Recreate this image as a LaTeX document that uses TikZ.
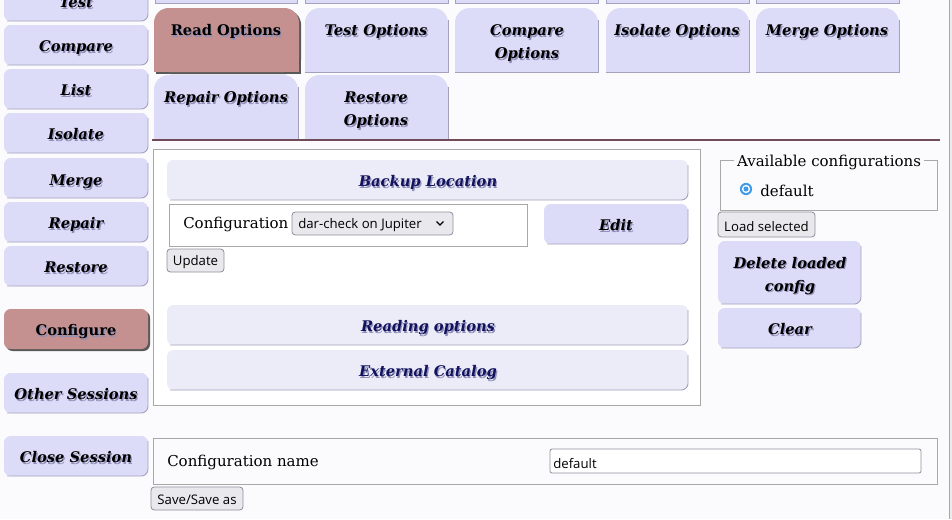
\documentclass[tikz,border=0pt]{standalone}
\usepackage{fontspec}
\setmainfont{DejaVu Serif}
\newfontfamily\uisans{Open Sans}

\definecolor{pagebg}{HTML}{FBFBFE}
\definecolor{btnface}{HTML}{DCDCF9}
\definecolor{btnedge}{HTML}{A4A1BC}
\definecolor{btnactive}{HTML}{C49090}
\definecolor{headface}{HTML}{ECECF8}
\definecolor{headink}{HTML}{12125E}
\definecolor{txshadow}{HTML}{9090B8}
\definecolor{paneledge}{HTML}{A8A8A8}
\definecolor{ctlface}{HTML}{E9E9ED}
\definecolor{ctledge}{HTML}{8F8F9D}
\definecolor{radioblue}{HTML}{3D9BE9}
\colorlet{activeshadow}{black!65}
\colorlet{divider}{black!55!purple!40!gray}

\def\tabradius{11pt}
\def\btnfont{\fontsize{11}{17.25}\selectfont\bfseries\itshape}
% text with a soft shadow, one or more lines
\newcommand{\txshd}[1]{\rlap{\kern0.9pt\raisebox{-1pt}{\color{txshadow}\begin{tabular}[b]{@{}c@{}}#1\end{tabular}}}\begin{tabular}[b]{@{}c@{}}#1\end{tabular}}
% tab: x1 y1 x2 y2 colour, round top only
\newcommand{\tabshape}[5]{%
  \fill[#5, rounded corners=\tabradius] (#1,#2) rectangle (#3,#4);
  \fill[#5] (#1,#2+20) rectangle (#3,#4);}
\newcommand{\tabedge}[4]{\draw[edgeline] (#3,#2+12) -- (#3,#4) -- (#1,#4);}
% menu button: x1 y1 x2 y2
\newcommand{\btnbox}[4]{%
  \fill[btnface, rounded corners=5pt] (#1,#2) rectangle (#3,#4);
  \draw[edgeline, rounded corners=5pt] (#3,#2+5) -- (#3,#4) -- (#1+3,#4);}
\newcommand{\headbox}[4]{%
  \fill[headface, rounded corners=5pt] (#1,#2) rectangle (#3,#4);
  \draw[edgeline, rounded corners=5pt] (#3,#2+5) -- (#3,#4) -- (#1+3,#4);}

\tikzset{
  edgeline/.style={draw=btnedge, line width=0.7pt},
  btntext/.style={font=\btnfont, text=black, inner sep=0pt, yshift=-2.2pt},
  acttext/.style={font=\fontsize{11}{17.25}\selectfont\bfseries, text=black, inner sep=0pt, yshift=-2.2pt},
  headtext/.style={font=\btnfont, text=headink, inner sep=0pt, yshift=-2.2pt},
  formtext/.style={font=\fontsize{11.25}{14}\selectfont, text=black, inner sep=0pt, yshift=-2.2pt},
  ctltext/.style={font=\uisans\fontsize{9.9}{12}\selectfont, text=black, inner sep=0pt, yshift=-1.1pt},
  smallbtn/.style={fill=ctlface, draw=ctledge, line width=0.6pt, rounded corners=2.5pt},
  panel/.style={draw=paneledge, line width=0.7pt}
  }

\begin{document}
\begin{tikzpicture}[x=0.75pt,y=-0.75pt]
  \useasboundingbox (0,0) rectangle (952,519);
  \clip (0,0) rectangle (952,519);
  \fill[pagebg] (0,0) rectangle (952,519);
  \fill[black!8] (949,0) rectangle (952,519);
  \draw[paneledge, line width=0.7pt] (949,0) -- (949,519);

  % side menu
  \btnbox{4}{-19}{148}{21}
  \node[btntext] (test) at (76,1) {\txshd{Test}};
  \btnbox{4}{25}{148}{65}
  \node[btntext] (compare) at (76,45) {\txshd{Compare}};
  \btnbox{4}{69}{148}{109}
  \node[btntext] (list) at (76,89) {\txshd{List}};
  \btnbox{4}{113}{148}{153}
  \node[btntext] (isolate) at (76,133) {\txshd{Isolate}};
  \btnbox{4}{158}{148}{198}
  \node[btntext] (merge) at (76,179) {\txshd{Merge}};
  \btnbox{4}{202}{148}{242}
  \node[btntext] (repair) at (76,222) {\txshd{Repair}};
  \btnbox{4}{246}{148}{286}
  \node[btntext] (restore) at (76,266) {\txshd{Restore}};
  \fill[activeshadow, rounded corners=5pt] (6,311) rectangle (150,351);
  \fill[btnactive, rounded corners=5pt] (4,309) rectangle (148,349);
  \node[acttext] (configure) at (76,329) {\txshd{Configure}};
  \btnbox{4}{373}{148}{413}
  \node[btntext] (othersessions) at (76,393) {\txshd{Other Sessions}};
  \btnbox{4}{436}{148}{476}
  \node[btntext] (closesession) at (76,456) {\txshd{Close Session}};

  % tabs, row above (cut off)
  \fill[btnface] (155,-20) rectangle (297,3);
  \draw[edgeline] (155,-20) -- (155,3) -- (297,3) -- (297,-20);
  \fill[btnface] (305,-20) rectangle (448,3);
  \draw[edgeline] (305,-20) -- (305,3) -- (448,3) -- (448,-20);
  \fill[btnface] (455,-20) rectangle (598,3);
  \draw[edgeline] (455,-20) -- (455,3) -- (598,3) -- (598,-20);
  \fill[btnface] (606,-20) rectangle (749,3);
  \draw[edgeline] (606,-20) -- (606,3) -- (749,3) -- (749,-20);
  \fill[btnface] (756,-20) rectangle (899,3);
  \draw[edgeline] (756,-20) -- (756,3) -- (899,3) -- (899,-20);

  % tabs
  \tabshape{156}{10}{301}{74}{activeshadow}
  \tabshape{154}{8}{299}{72}{btnactive}
  \node[acttext] (readopt) at (226,29) {\txshd{Read Options}};
  \tabshape{305}{8}{448}{72}{btnface}
  \tabedge{305}{8}{448}{72}
  \node[btntext] (testopt) at (376,29) {\txshd{Test Options}};
  \tabshape{455}{8}{598}{72}{btnface}
  \tabedge{455}{8}{598}{72}
  \node[btntext] (compareopt) at (527,40.5) {\txshd{Compare\\Options}};
  \tabshape{606}{8}{749}{72}{btnface}
  \tabedge{606}{8}{749}{72}
  \node[btntext] (isolateopt) at (677,29) {\txshd{Isolate Options}};
  \tabshape{756}{8}{899}{72}{btnface}
  \tabedge{756}{8}{899}{72}
  \node[btntext] (mergeopt) at (827,29) {\txshd{Merge Options}};
  \tabshape{154}{75}{298}{139}{btnface}
  \tabedge{154}{75}{298}{139}
  \node[btntext] (repairopt) at (226,96) {\txshd{Repair Options}};
  \tabshape{305}{75}{448}{139}{btnface}
  \tabedge{305}{75}{448}{139}
  \node[btntext] (restoreopt) at (376,107.5) {\txshd{Restore\\Options}};
  \draw[divider, line width=1.5pt] (152,139.5) -- (940,139.5);

  % main panel
  \draw[panel, fill=white] (153,149) rectangle (700,405);
  \headbox{167}{160}{688}{200}
  \node[headtext] (backup) at (428,180) {\txshd{Backup Location}};
  \draw[panel, fill=white] (169,204) rectangle (527,246);
  \node[formtext, anchor=west] (conflabel) at (183,222) {Configuration};
  \draw[smallbtn] (292,212) rectangle (453,235);
  \node[ctltext, anchor=west] (confselect) at (298,224) {dar-check on Jupiter};
  \draw[black, line width=0.9pt] (436.5,221.5) -- (440,225) -- (443.5,221.5);
  \btnbox{544}{204}{688}{244}
  \node[btntext] (edit) at (616,224) {\txshd{Edit}};
  \draw[smallbtn] (167,249) rectangle (224,272);
  \node[ctltext] (update) at (195.5,261) {Update};
  \headbox{167}{305}{688}{345}
  \node[headtext] (reading) at (428,325) {\txshd{Reading options}};
  \headbox{167}{350}{688}{390}
  \node[headtext] (catalog) at (428,370) {\txshd{External Catalog}};

  % configurations on the right
  \draw[panel] (720,160) rectangle (937,210);
  \node[formtext, fill=pagebg, inner xsep=2pt] (available) at (829,160) {Available configurations};
  \fill[radioblue] (746,189) circle (4.6pt);
  \fill[white] (746,189) circle (3.1pt);
  \fill[radioblue] (746,189) circle (1.9pt);
  \node[formtext, anchor=west] (default) at (760,188) {default};
  \draw[smallbtn] (718,212) rectangle (815,237);
  \node[ctltext] (loadsel) at (766.5,225) {Load selected};
  \btnbox{718}{241}{861}{304}
  \node[btntext] (deleteconf) at (790,273) {\txshd{Delete loaded\\config}};
  \btnbox{718}{308}{861}{348}
  \node[btntext] (clear) at (790,328) {\txshd{Clear}};

  % name of the configuration
  \draw[panel] (153,438) rectangle (937,484);
  \node[formtext, anchor=west] (namelabel) at (167,460) {Configuration name};
  \draw[ctledge, line width=0.6pt, fill=white, rounded corners=1.5pt] (550,449) rectangle (921,473);
  \node[ctltext, anchor=west] (nameinput) at (553,462) {default};
  \draw[smallbtn] (151,487) rectangle (243,510);
  \node[ctltext] (save) at (197,498.5) {Save/Save as};
\end{tikzpicture}
\end{document}
